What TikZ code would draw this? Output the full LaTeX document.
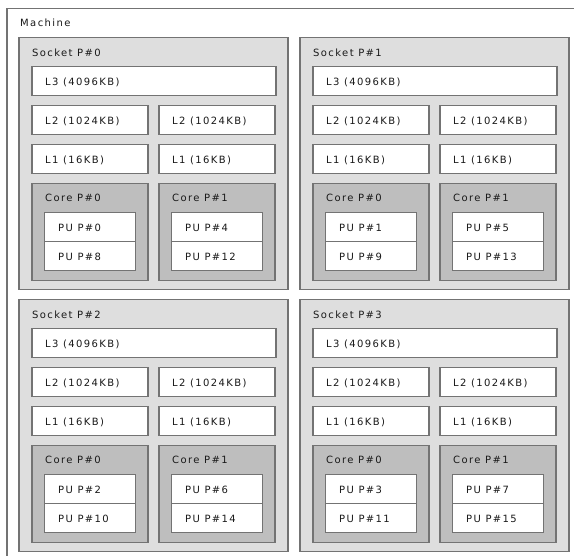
\documentclass[tikz,border=0pt]{standalone}
\usepackage{fontspec}
\newfontfamily\lstofont[LetterSpace=14]{DejaVu Sans}
\usetikzlibrary{positioning}
\definecolor{edge}{HTML}{737373}
\definecolor{socketfill}{HTML}{DEDEDE}
\definecolor{corefill}{HTML}{BEBEBE}

\begin{document}
\begin{tikzpicture}[x=1pt,y=-1pt,
  every node/.style={font=\lstofont\fontsize{10}{12}\selectfont},
  box/.style={draw=edge, line width=1.5pt, anchor=north west, inner sep=0pt},
  machine/.style={box, fill=white, minimum width=580pt, minimum height=560pt},
  socket/.style={box, fill=socketfill, minimum width=269pt, minimum height=252pt},
  core/.style={box, fill=corefill, minimum width=116pt, minimum height=97pt},
  cache/.style={box, fill=white, minimum width=#1, minimum height=29pt},
  title/.style={anchor=base west, inner sep=0pt, text=black!90}]
\useasboundingbox (0,0) rectangle (574,556);
\clip (0,0) rectangle (574,556);
\node[machine] (m) at (6,8) {};
\node[title] (m-t) at (20,27) {Machine};
\foreach \s/\x/\y/\pa/\pb/\pc/\pd in {0/18/37/0/8/4/12, 1/299/37/1/9/5/13,
    2/18/299/2/10/6/14, 3/299/299/3/11/7/15}{
  \node[socket] (s\s) at (\x,\y) {};
  \node[title] (s\s-t) at (\x+14,\y+20) {Socket P\#\s};
  \node[cache=244pt] (l3-\s) at (\x+13,\y+29) {};
  \node[title] (l3-\s-t) at (\x+27,\y+49) {L3 (4096KB)};
  \foreach \c/\cx/\pu/\pv in {0/13/\pa/\pb, 1/140/\pc/\pd}{
    \node[cache=116pt] (l2-\s-\c) at (\x+\cx,\y+68) {};
    \node[title] (l2-\s-\c-t) at (\x+\cx+14,\y+88) {L2 (1024KB)};
    \node[cache=116pt] (l1-\s-\c) at (\x+\cx,\y+107) {};
    \node[title] (l1-\s-\c-t) at (\x+\cx+14,\y+127) {L1 (16KB)};
    \node[core] (c-\s-\c) at (\x+\cx,\y+146) {};
    \node[title] (c-\s-\c-t) at (\x+\cx+14,\y+165) {Core P\#\c};
    % two PUs per core
    \node[cache=91pt] (pu-\s-\c-a) at (\x+\cx+12.5,\y+175) {};
    \node[title] (pu-\s-\c-at) at (\x+\cx+27,\y+195) {PU P\#\pu};
    \node[cache=91pt] (pu-\s-\c-b) at (\x+\cx+12.5,\y+204) {};
    \node[title] (pu-\s-\c-bt) at (\x+\cx+27,\y+224) {PU P\#\pv};
  }
}
\end{tikzpicture}
\end{document}
